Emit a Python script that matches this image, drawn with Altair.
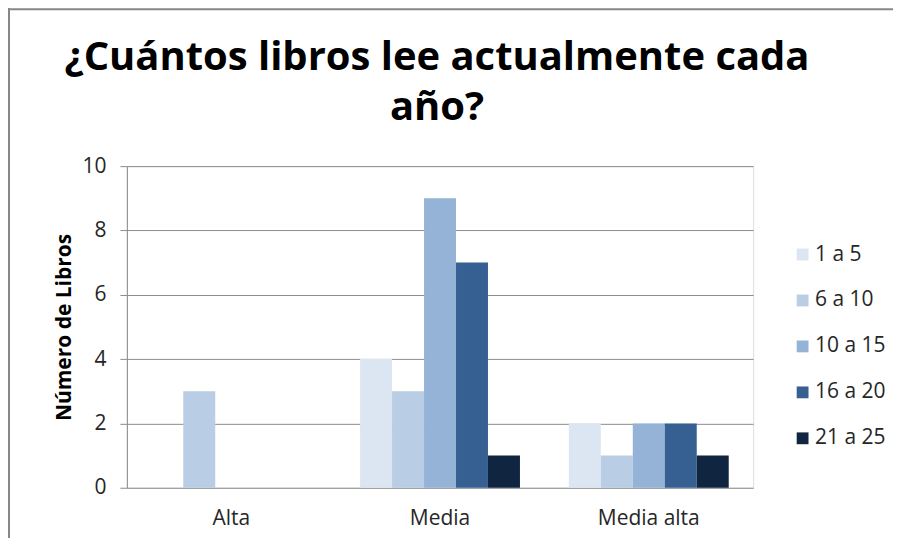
import altair as alt
import pandas as pd

categories = ["Alta", "Media", "Media alta"]
series = ["1 a 5", "6 a 10", "10 a 15", "16 a 20", "21 a 25"]
v_1a5 = [0, 4, 2]
v_6a10 = [3, 3, 1]
v_10a15 = [0, 9, 2]
v_16a20 = [0, 7, 2]
v_21a25 = [0, 1, 1]
colors = ["#dce6f2", "#b9cde5", "#95b3d7", "#366092", "#10253f"]

rows = []
for s, vals in zip(series, [v_1a5, v_6a10, v_10a15, v_16a20, v_21a25]):
    for c, v in zip(categories, vals):
        rows.append({"cat": c, "serie": s, "val": v})
df = pd.DataFrame(rows)

FONT = "Open Sans"
LFS = 21
W, H = 627, 322

bars = alt.Chart(df).mark_bar(size=32).encode(
    x=alt.X("cat:N", sort=categories, title=None,
            scale=alt.Scale(paddingInner=0.234, paddingOuter=0.117),
            axis=alt.Axis(labelAngle=0, ticks=False, domain=False, labelFontSize=LFS,
                          labelFont=FONT, labelColor="#262626", labelPadding=20)),
    xOffset=alt.XOffset("serie:N", sort=series, scale=alt.Scale(paddingInner=0, paddingOuter=0)),
    y=alt.Y("val:Q", title="Número de Libros",
            scale=alt.Scale(domain=[0, 10]),
            axis=alt.Axis(values=[0, 2, 4, 6, 8, 10], tickSize=7, tickColor="#8c8c8c",
                          domainColor="#8c8c8c", gridColor="#8c8c8c", gridWidth=1,
                          labelFontSize=LFS, labelFont=FONT, labelColor="#262626", labelPadding=14,
                          titleFont=FONT, titleFontSize=21, titleFontWeight="bold", titleColor="#000000",
                          titleAngle=270, titleX=-62, titleY=161, titleAlign="center",
                          titleBaseline="middle")),
    color=alt.Color("serie:N", sort=series, title=None,
                    scale=alt.Scale(domain=series, range=colors),
                    legend=alt.Legend(orient="none", legendX=666, legendY=78,
                                      symbolType="square", symbolSize=140, symbolStrokeWidth=0,
                                      labelFontSize=LFS, labelFont=FONT, labelColor="#262626",
                                      rowPadding=24, labelOffset=2, padding=0)),
)

frame = pd.DataFrame({"k": [0]})
left_line = alt.Chart(frame).mark_rule(color="#878787", strokeWidth=2).encode(
    x=alt.value(-118), y=alt.value(-160), y2=alt.value(H + 60))
top_line = alt.Chart(frame).mark_rule(color="#878787", strokeWidth=2).encode(
    x=alt.value(-118), x2=alt.value(W + 160), y=alt.value(-157))

chart = alt.layer(bars, left_line, top_line).properties(
    width=W, height=H,
    title=alt.Title(["¿Cuántos libros lee actualmente cada", "año?"],
                    font=FONT, fontSize=40, fontWeight="bold", color="#000000",
                    anchor="middle", lineHeight=50, offset=-123, dx=-3),
    autosize=alt.AutoSizeParams(type="none"),
    padding={"left": 119, "top": 158, "right": 140, "bottom": 50},
).configure_view(stroke=None).configure(background="white")

chart.save("out.html", embed_options={"renderer": "svg", "actions": False})
